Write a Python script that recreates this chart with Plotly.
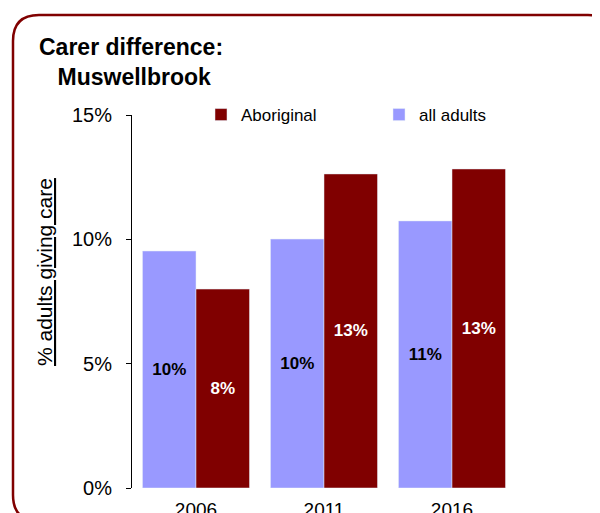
import plotly.graph_objects as go

years = ["2006", "2011", "2016"]
all_adults = [0.0953, 0.1001, 0.1074]
aboriginal = [0.0800, 0.1263, 0.1283]
y_ticks = [0, 0.05, 0.10, 0.15]

OFF = 8  # page body margin
W, H = 600, 513
ML, MT = 132 - OFF, 115 - OFF
MB = H - (488 - OFF)
MR = W - (516 - OFF)
PW, PH = W - ML - MR, H - MT - MB


def px(x):
    return (x - OFF - ML) / PW


def py(y):
    return (H - MB - (y - OFF)) / PH


FONT = "Liberation Sans, Arial, sans-serif"
PURPLE = "#9999FF"
MAROON = "#800000"

fig = go.Figure()
fig.add_trace(go.Bar(
    x=years, y=all_adults, name="all adults", marker_color=PURPLE,
    texttemplate="%{y:.0%}", textposition="inside", insidetextanchor="middle",
    textfont=dict(color="black", size=17, family=FONT, weight="bold"),
    constraintext="none",
))
fig.add_trace(go.Bar(
    x=years, y=aboriginal, name="Aboriginal", marker_color=MAROON,
    texttemplate="%{y:.0%}", textposition="inside", insidetextanchor="middle",
    textfont=dict(color="white", size=17, family=FONT, weight="bold"),
    constraintext="none",
))

# rounded border (cut by the page edges)
L, T, R, B, r = 13, 15, 614, 521, 26
path = (
    f"M {px(L)},{py(T + r)} Q {px(L)},{py(T)} {px(L + r)},{py(T)} "
    f"L {px(R - r)},{py(T)} Q {px(R)},{py(T)} {px(R)},{py(T + r)} "
    f"L {px(R)},{py(B - r)} Q {px(R)},{py(B)} {px(R - r)},{py(B)} "
    f"L {px(L + r)},{py(B)} Q {px(L)},{py(B)} {px(L)},{py(B - r)} Z"
)
fig.add_shape(type="path", xref="paper", yref="paper", path=path,
              line=dict(color=MAROON, width=2.5), layer="below")

fig.add_annotation(
    text="Carer difference:<br>\u00a0Muswellbrook", xref="paper", yref="paper",
    x=px(131), y=py(62), xanchor="center", yanchor="middle", align="center",
    showarrow=False, font=dict(family=FONT, size=23, color="black", weight="bold"),
)
fig.add_annotation(
    text="<u>% adults giving care</u>", xref="paper", yref="paper",
    x=px(44), y=py(272), xanchor="center", yanchor="middle", textangle=-90,
    showarrow=False, font=dict(family=FONT, size=21, color="black"),
)

fig.update_layout(
    width=W, height=H,
    margin=dict(l=ML, r=MR, t=MT, b=MB, pad=0),
    paper_bgcolor="white", plot_bgcolor="white",
    font=dict(family=FONT, color="black"),
    barmode="group", bargap=0.164, bargroupgap=0,
    showlegend=True,
    legend=dict(
        orientation="h", x=px(201), y=py(115), xanchor="left", yanchor="middle",
        traceorder="reversed", font=dict(size=17, family=FONT),
        entrywidth=133, bgcolor="rgba(0,0,0,0)",
    ),
    xaxis=dict(showline=False, ticks="", showgrid=False, zeroline=False,
               tickfont=dict(size=19), ticklabelstandoff=8, automargin=False),
    yaxis=dict(range=[0, 0.15], tickvals=y_ticks, tickformat=".0%",
               showline=True, linecolor="black", linewidth=1,
               ticks="outside", ticklen=5, tickcolor="black",
               showgrid=False, zeroline=False, tickfont=dict(size=20),
               ticklabelstandoff=10, automargin=False),
)

fig.write_html("out.html")
